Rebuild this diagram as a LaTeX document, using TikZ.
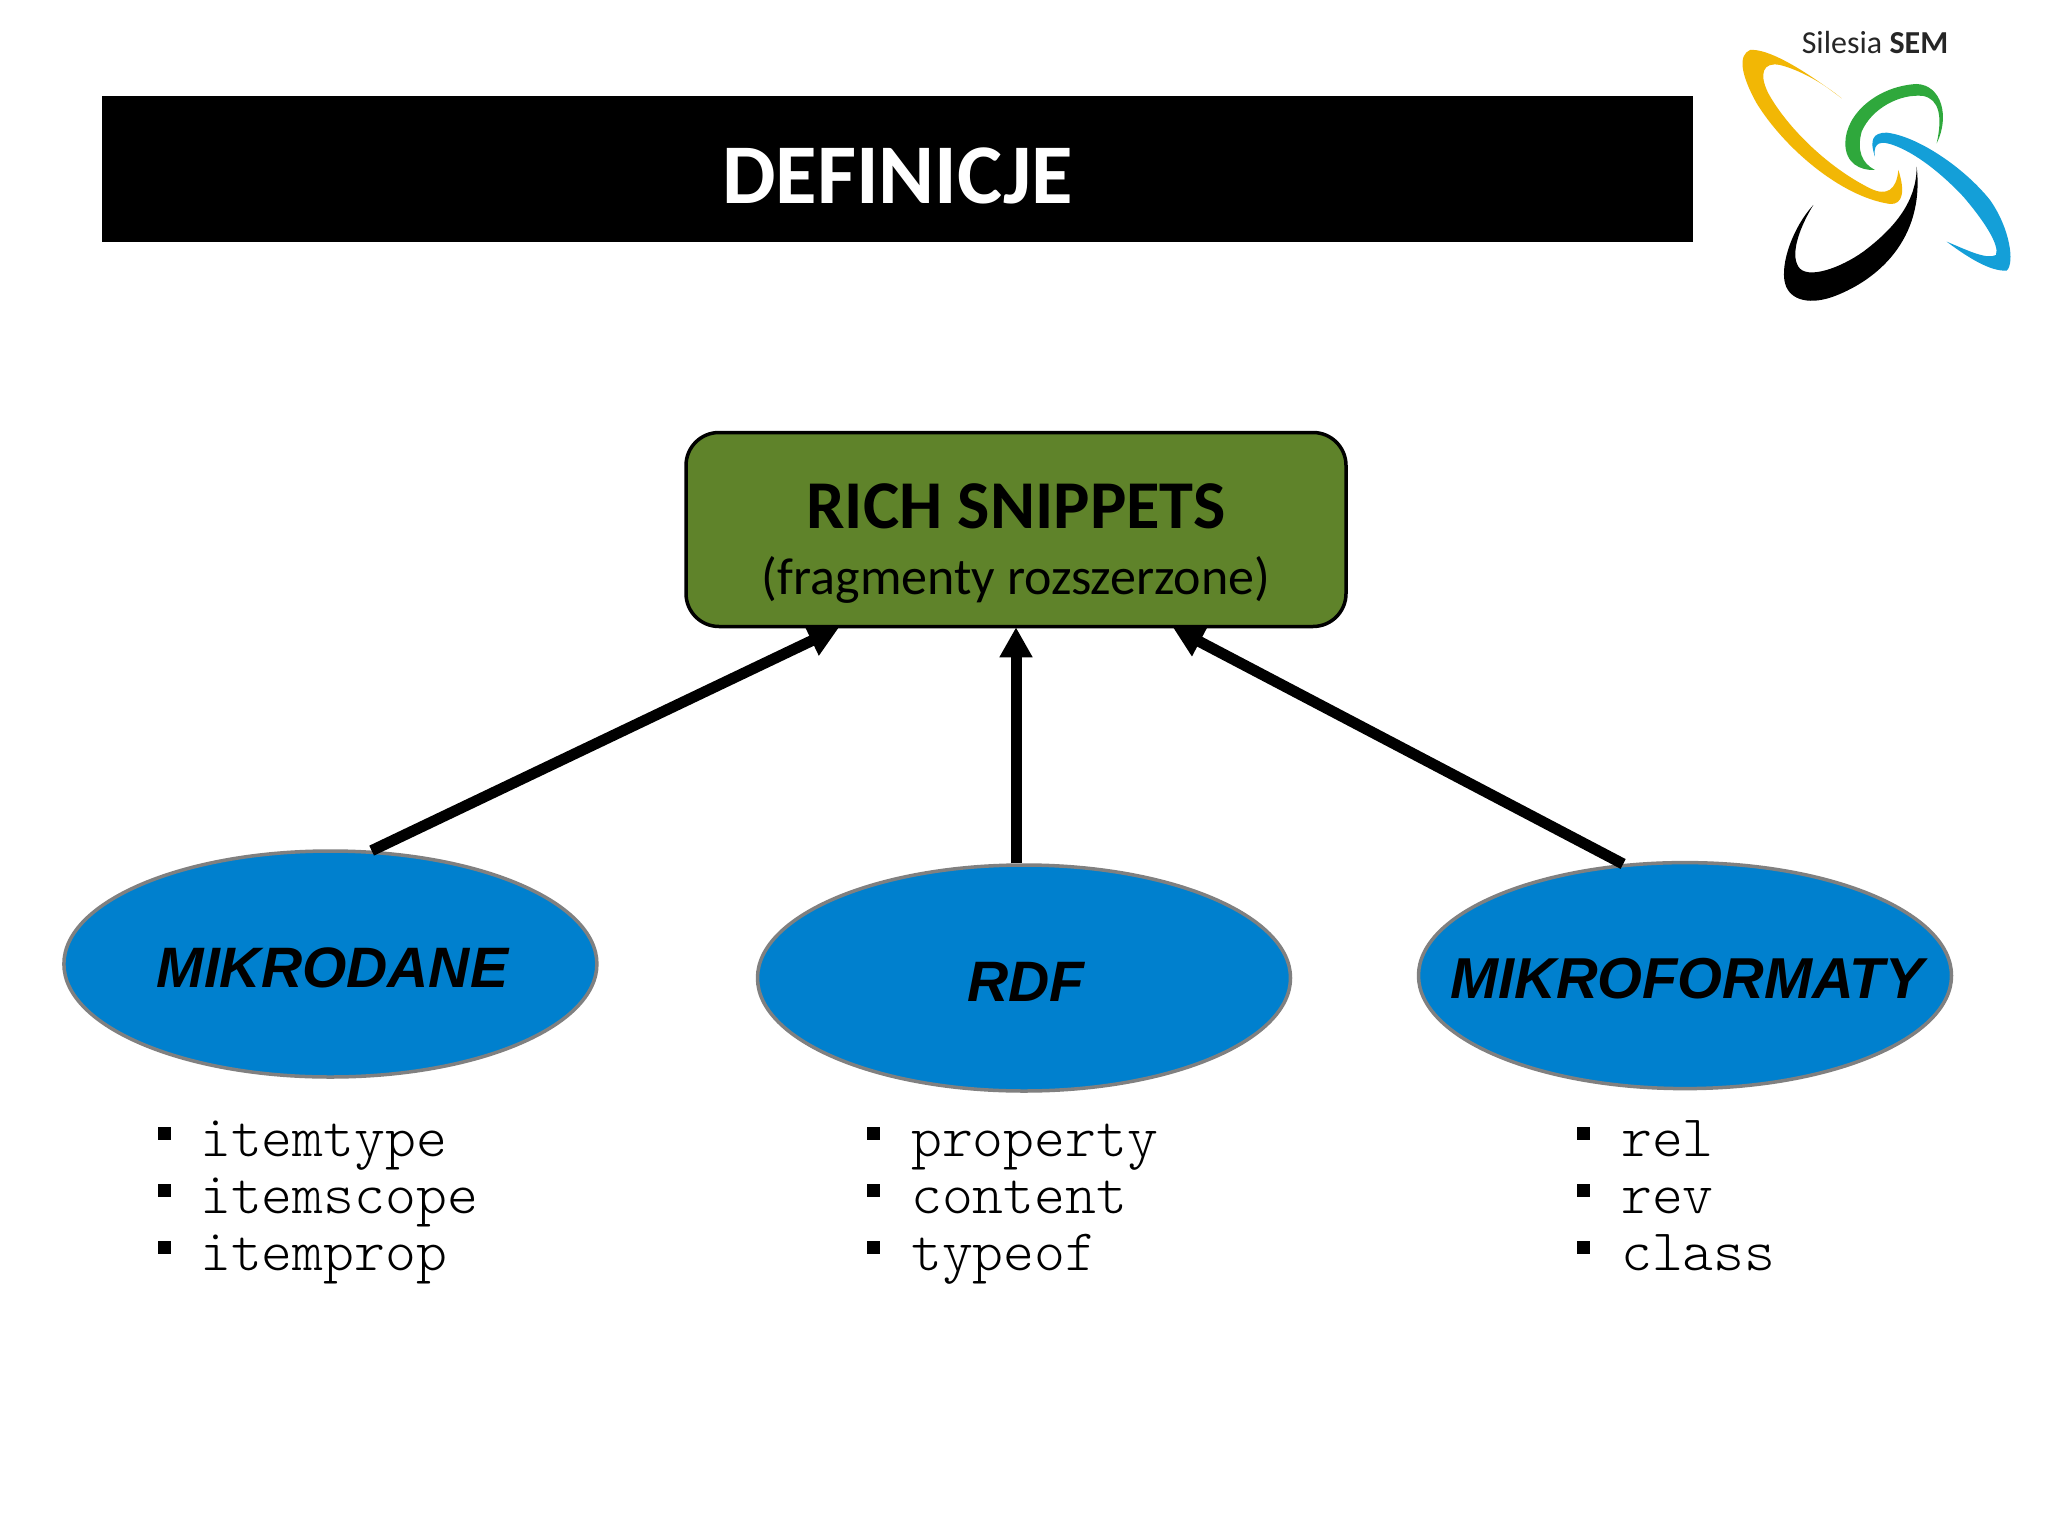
\documentclass[tikz,border=0pt]{standalone}
\usepackage{fontspec}
\usetikzlibrary{arrows.meta,shapes.geometric}
\setmainfont{Carlito}
\setmonofont{Latin Modern Mono Light}
\newfontfamily\arialfont{Liberation Sans}
\definecolor{boxgreen}{HTML}{5F832A}
\definecolor{ellblue}{HTML}{0080CE}
\definecolor{ellgray}{HTML}{808080}
\definecolor{logoyellow}{HTML}{F2B705}
\definecolor{logogreen}{HTML}{2FA83C}
\definecolor{logoblue}{HTML}{149FD8}
\newcommand{\ovaltext}[1]{\rule{0pt}{47pt}\makebox[0pt][c]{\hspace{4pt}#1}}
\tikzset{
  x=1pt,y=-1pt,
  ovalnode/.style={ellipse,draw=ellgray,line width=3.5pt,fill=ellblue,minimum width=533pt,minimum height=226pt,inner sep=0pt,
    font=\arialfont\bfseries\itshape\fontsize{57}{62}\selectfont},
  linkarrow/.style={line width=11pt,-{Triangle[length=30pt,width=31pt]},shorten >=-1pt},
  bulletmark/.style={rectangle,fill=black,minimum size=13pt,inner sep=0pt},
  itemtext/.style={anchor=base west,inner sep=0pt,font=\ttfamily\fontsize{58.8}{60}\selectfont}
}
\begin{document}
\begin{tikzpicture}
\useasboundingbox (0,0) rectangle (2048,1536);
\fill[white] (0,0) rectangle (2048,1536);
% title bar
\node[rectangle,fill=black,minimum width=1591pt,minimum height=145pt,inner sep=0pt,text=white,
  font=\bfseries\fontsize{85}{88}\selectfont] (title) at (897.5,169) {\rule{0pt}{70pt}DEFINICJE};
% rich snippets
\node[rectangle,rounded corners=33pt,draw=black,line width=3.5pt,fill=boxgreen,minimum width=660pt,minimum height=194pt,inner sep=0pt,align=center,
  font=\fontsize{52}{66}\selectfont] (rich) at (1016,529.5)
  {\rule{0pt}{72pt}{\bfseries\fontsize{68.4}{70}\selectfont RICH SNIPPETS}\\(fragmenty rozszerzone)};
% ovals
\node[ovalnode] (mikro) at (330.4,964) {\ovaltext{MIKRODANE}};
\node[ovalnode] (rdf) at (1024,978) {\ovaltext{RDF}};
\node[ovalnode,font=\arialfont\bfseries\itshape\fontsize{57.7}{62}\selectfont] (forma) at (1685,975.6) {\ovaltext{MIKROFORMATY}};
% connectors
\draw[linkarrow] (mikro.70) -- (rich.209.2);
\draw[linkarrow] (rdf.north -| rich.south) -- (rich.south);
\draw[linkarrow] (forma.119.5) -- (rich.-32.5);
% lists
\foreach \name/\bx/\tx/\lines in {a/164/200/{itemtype,itemscope,itemprop},b/873/911/{property,content,typeof},c/1583/1621/{rel,rev,class}}{
  \foreach \word [count=\i from 0] in \lines {
    \node[bulletmark] (bul\name\i) at (\bx,1133+57.3*\i) {};
    \node[itemtext] (txt\name\i) at (\tx,1156+57.3*\i) {\word};
  }
}
% logo
\node[inner sep=0pt,text=black!85,font=\fontsize{32}{34}\selectfont] (logotext) at (1875,43) {Silesia \textbf{SEM}};
\begin{scope}[shift={(1700,0)},x=0.3333pt,y=-0.3333pt]
\fill[logoyellow] (425,295) .. controls (300,200) and (200,145) .. (150,150)
  .. controls (115,165) and (120,220) .. (170,310)
  .. controls (250,440) and (420,590) .. (570,612)
  .. controls (610,615) and (615,570) .. (595,510)
  .. controls (590,570) and (560,590) .. (510,565)
  .. controls (380,500) and (260,380) .. (205,280)
  .. controls (175,220) and (190,185) .. (240,195)
  .. controls (300,210) and (370,250) .. (425,295) -- cycle;
\fill[logogreen] (710,430) .. controls (750,350) and (725,255) .. (650,252)
  .. controls (535,258) and (436,340) .. (436,430)
  .. controls (436,490) and (480,512) .. (525,510)
  .. controls (485,490) and (470,450) .. (485,395)
  .. controls (515,325) and (600,280) .. (670,288)
  .. controls (718,298) and (728,350) .. (710,430) -- cycle;
\fill[logoblue] (525,470) .. controls (508,420) and (518,398) .. (560,398)
  .. controls (650,408) and (790,500) .. (870,600)
  .. controls (930,685) and (945,790) .. (920,812)
  .. controls (870,815) and (800,770) .. (740,725)
  .. controls (800,750) and (860,780) .. (888,765)
  .. controls (900,735) and (850,660) .. (790,590)
  .. controls (710,505) and (630,450) .. (570,432)
  .. controls (530,420) and (520,440) .. (525,470) -- cycle;
\fill[black] (340,615) .. controls (280,680) and (240,790) .. (255,850)
  .. controls (270,905) and (335,915) .. (405,888)
  .. controls (530,840) and (675,720) .. (650,500)
  .. controls (650,600) and (590,680) .. (490,755)
  .. controls (420,805) and (320,840) .. (295,800)
  .. controls (270,760) and (300,680) .. (340,615) -- cycle;
\end{scope}
\end{tikzpicture}
\end{document}
